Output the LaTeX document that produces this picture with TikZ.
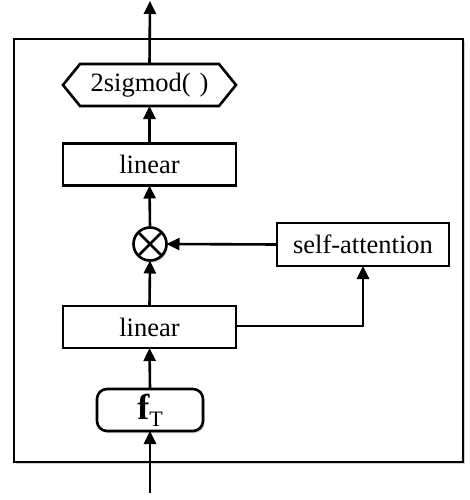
\documentclass[tikz,border=0pt]{standalone}
\usepackage{fontspec}
\setmainfont{Liberation Serif}
\usetikzlibrary{arrows.meta,shadows}
\begin{document}
\begin{tikzpicture}[x=1pt,y=-1pt,
  line width=2.6pt,
  conn/.style={-{Triangle[width=12pt,length=13pt]}},
  boxnode/.style={draw, fill=white, inner sep=0pt, outer sep=0pt, minimum width=173pt, minimum height=42pt, font=\fontsize{26.5}{30}\selectfont},
  lightshadow/.style={drop shadow={shadow xshift=1.5pt, shadow yshift=-2pt, opacity=0.18, fill=black}}
]
\useasboundingbox (0,0) rectangle (469,500);
% outer frame
\node[draw, fill=white, lightshadow, inner sep=0pt, outer sep=0pt, minimum width=449pt, minimum height=423pt] (frame) at (238.5,250.5) {};
% hexagon 2sigmod
\node[inner sep=0pt, outer sep=0pt, minimum width=173pt, minimum height=42pt, font=\fontsize{26.5}{30}\selectfont] (sig) at (149.5,85) {2sigmod(\,\,)};
\draw (sig.west) -- ([xshift=17pt]sig.north west) -- ([xshift=-17pt]sig.north east) -- (sig.east) -- ([xshift=-17pt]sig.south east) -- ([xshift=17pt]sig.south west) -- cycle;
% boxes
\node[boxnode] (lin2) at (149.5,164.5) {linear};
\node[draw, fill=white, circle, lightshadow, inner sep=0pt, outer sep=0pt, minimum size=33pt] (mul) at (150,244) {};
\draw (mul.45) -- (mul.225);
\draw (mul.135) -- (mul.315);
\node[boxnode, minimum width=172pt, minimum height=43pt] (att) at (363,244.5) {self-attention};
\node[boxnode] (lin1) at (149.5,327) {linear};
\node[draw, fill=white, rounded corners=10pt, lightshadow, inner sep=0pt, outer sep=0pt, minimum width=106pt, minimum height=42pt] (ft) at (150,410) {{\fontsize{36}{36}\selectfont\bfseries f}\raisebox{-7pt}{\fontsize{22}{22}\selectfont T}};
% coordinates
\coordinate (top) at (150,1);
\coordinate (bot) at (150,493);
\coordinate (turn) at (363,326);
% connectors
\draw[conn] (bot) -- (ft.south);
\draw[conn] (ft.north) -- (lin1.south);
\draw[conn] (lin1.north) -- (mul.south);
\draw[conn] (mul.north) -- (lin2.south);
\draw[conn] (lin2.north) -- (sig.south);
\draw[conn] (sig.north) -- (top);
\draw[conn] (att.west) -- (mul.east);
\draw[conn] (lin1.east |- turn) -- (turn) -- (att.south);
\end{tikzpicture}
\end{document}
